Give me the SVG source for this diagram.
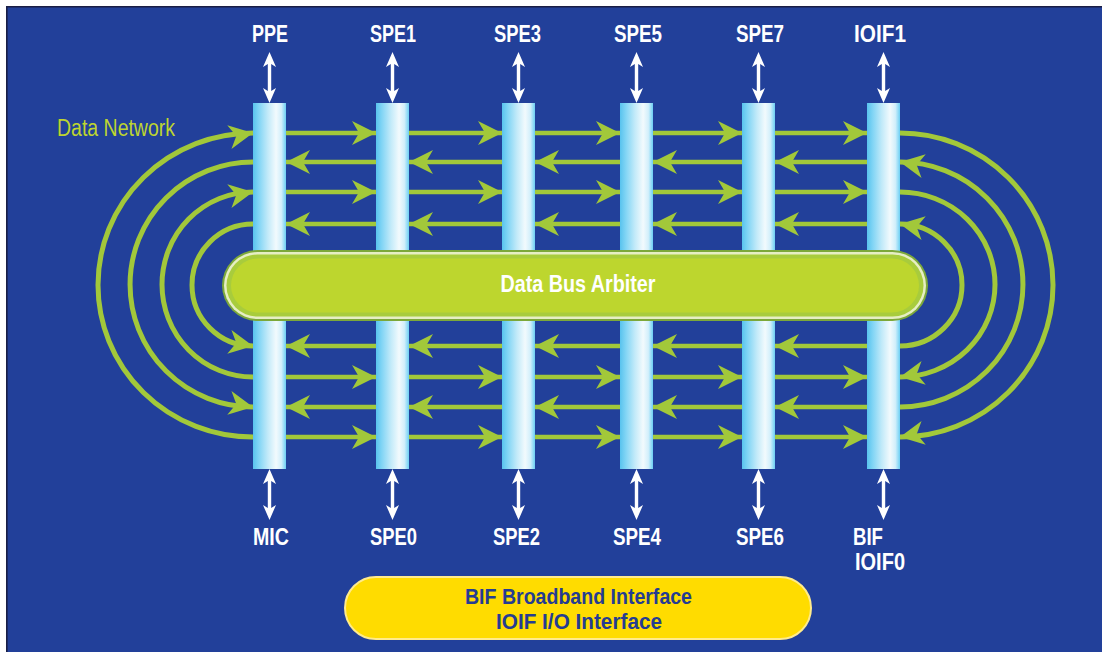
<svg xmlns="http://www.w3.org/2000/svg" xmlns:xlink="http://www.w3.org/1999/xlink" width="1102" height="652" viewBox="0 0 1102 652">
<style>
.lbl{font-family:"Liberation Sans Narrow","Liberation Sans",Arial,sans-serif;font-weight:bold;font-size:23px;fill:#ffffff;text-anchor:middle}
.leg{font-family:"Liberation Sans Narrow","Liberation Sans",Arial,sans-serif;font-weight:bold;font-size:22.5px;fill:#253C92;text-anchor:middle}
.net{font-family:"Liberation Sans Narrow","Liberation Sans",Arial,sans-serif;font-size:23px;fill:#BED530}
.ln{fill:none;stroke:#A2C83A;stroke-width:4.5}
.arc{fill:none;stroke:#A2C83A;stroke-width:5}
.ah{fill:#A2C83A}
.col{fill:url(#colg)}
.wa{fill:#ffffff}
</style>
<defs>
<linearGradient id="colg" x1="0" y1="0" x2="1" y2="0">
<stop offset="0" stop-color="#58C3EE"/>
<stop offset="0.18" stop-color="#82D5F5"/>
<stop offset="0.45" stop-color="#C2EAF9"/>
<stop offset="0.7" stop-color="#F2FAFD"/>
<stop offset="0.86" stop-color="#D2EFFB"/>
<stop offset="1" stop-color="#6CCFF4"/>
</linearGradient>
<path id="ah" class="ah" d="M0,0 L-24,-12 L-17,0 L-24,12 Z"/>
<path id="dbl" d="M0,0 L6.5,15 L1.7,12 L1.7,39 L6.5,36 L0,51 L-6.5,36 L-1.7,39 L-1.7,12 L-6.5,15 Z"/>
</defs>

<rect x="0" y="0" width="1102" height="652" fill="#ffffff"/>
<rect x="6" y="6" width="1096" height="646" fill="#22409A"/>
<path d="M6.8,652 V6.8 H1102" fill="none" stroke="#1A1E45" stroke-width="1.6"/>

<text class="net" x="57" y="136" textLength="118" lengthAdjust="spacingAndGlyphs">Data Network</text>

<g id="connectors">
<path class="ln" d="M253,133H900M253,162H900M253,192H900M253,224H900M253,346H900M253,377H900M253,407H900M253,437H900"/>
<path class="arc" d="M253,133 A155,152 0 0 0 253,437"/>
<path class="arc" d="M253,162 A123,122.5 0 0 0 253,407"/>
<path class="arc" d="M253,192 A91,92.5 0 0 0 253,377"/>
<path class="arc" d="M253,224 A61,61 0 0 0 253,346"/>
<path class="arc" d="M900,133 A153,152 0 0 1 900,437"/>
<path class="arc" d="M900,162 A123,122.5 0 0 1 900,407"/>
<path class="arc" d="M900,192 A95,92.5 0 0 1 900,377"/>
<path class="arc" d="M900,224 A62,61 0 0 1 900,346"/>
<use href="#ah" transform="translate(376,133)"/><use href="#ah" transform="translate(502,133)"/><use href="#ah" transform="translate(620,133)"/><use href="#ah" transform="translate(742,133)"/><use href="#ah" transform="translate(867,133)"/>
<use href="#ah" transform="translate(376,192)"/><use href="#ah" transform="translate(502,192)"/><use href="#ah" transform="translate(620,192)"/><use href="#ah" transform="translate(742,192)"/><use href="#ah" transform="translate(867,192)"/>
<use href="#ah" transform="translate(376,377)"/><use href="#ah" transform="translate(502,377)"/><use href="#ah" transform="translate(620,377)"/><use href="#ah" transform="translate(742,377)"/><use href="#ah" transform="translate(867,377)"/>
<use href="#ah" transform="translate(376,437)"/><use href="#ah" transform="translate(502,437)"/><use href="#ah" transform="translate(620,437)"/><use href="#ah" transform="translate(742,437)"/><use href="#ah" transform="translate(867,437)"/>
<use href="#ah" transform="translate(286,162) rotate(180)"/><use href="#ah" transform="translate(409,162) rotate(180)"/><use href="#ah" transform="translate(535,162) rotate(180)"/><use href="#ah" transform="translate(653,162) rotate(180)"/><use href="#ah" transform="translate(775,162) rotate(180)"/>
<use href="#ah" transform="translate(286,224) rotate(180)"/><use href="#ah" transform="translate(409,224) rotate(180)"/><use href="#ah" transform="translate(535,224) rotate(180)"/><use href="#ah" transform="translate(653,224) rotate(180)"/><use href="#ah" transform="translate(775,224) rotate(180)"/>
<use href="#ah" transform="translate(286,346) rotate(180)"/><use href="#ah" transform="translate(409,346) rotate(180)"/><use href="#ah" transform="translate(535,346) rotate(180)"/><use href="#ah" transform="translate(653,346) rotate(180)"/><use href="#ah" transform="translate(775,346) rotate(180)"/>
<use href="#ah" transform="translate(286,407) rotate(180)"/><use href="#ah" transform="translate(409,407) rotate(180)"/><use href="#ah" transform="translate(535,407) rotate(180)"/><use href="#ah" transform="translate(653,407) rotate(180)"/><use href="#ah" transform="translate(775,407) rotate(180)"/>
<use href="#ah" transform="translate(253,133) rotate(-10)"/><use href="#ah" transform="translate(253,192) rotate(-10)"/><use href="#ah" transform="translate(253,346) rotate(10)"/><use href="#ah" transform="translate(253,407) rotate(10)"/>
<use href="#ah" transform="translate(900,162) rotate(190)"/><use href="#ah" transform="translate(900,224) rotate(190)"/><use href="#ah" transform="translate(900,377) rotate(170)"/><use href="#ah" transform="translate(900,437) rotate(170)"/>
</g>

<g id="col-ppe-mic">
<rect class="col" x="253" y="103" width="33" height="366"/>
<use href="#dbl" class="wa" x="269.5" y="52"/><use href="#dbl" class="wa" x="269.5" y="469"/>
<text class="lbl" x="270" y="42" textLength="36" lengthAdjust="spacingAndGlyphs">PPE</text>
<text class="lbl" x="271" y="545" textLength="36" lengthAdjust="spacingAndGlyphs">MIC</text>
</g>
<g id="col-spe1-spe0">
<rect class="col" x="376" y="103" width="33" height="366"/>
<use href="#dbl" class="wa" x="392.5" y="52"/><use href="#dbl" class="wa" x="392.5" y="469"/>
<text class="lbl" x="393" y="42" textLength="46" lengthAdjust="spacingAndGlyphs">SPE1</text>
<text class="lbl" x="393.5" y="545" textLength="47" lengthAdjust="spacingAndGlyphs">SPE0</text>
</g>
<g id="col-spe3-spe2">
<rect class="col" x="502" y="103" width="33" height="366"/>
<use href="#dbl" class="wa" x="518.5" y="52"/><use href="#dbl" class="wa" x="518.5" y="469"/>
<text class="lbl" x="517.5" y="42" textLength="47" lengthAdjust="spacingAndGlyphs">SPE3</text>
<text class="lbl" x="516.5" y="545" textLength="47" lengthAdjust="spacingAndGlyphs">SPE2</text>
</g>
<g id="col-spe5-spe4">
<rect class="col" x="620" y="103" width="33" height="366"/>
<use href="#dbl" class="wa" x="636.5" y="52"/><use href="#dbl" class="wa" x="636.5" y="469"/>
<text class="lbl" x="638" y="42" textLength="48" lengthAdjust="spacingAndGlyphs">SPE5</text>
<text class="lbl" x="637" y="545" textLength="48" lengthAdjust="spacingAndGlyphs">SPE4</text>
</g>
<g id="col-spe7-spe6">
<rect class="col" x="742" y="103" width="33" height="366"/>
<use href="#dbl" class="wa" x="758.5" y="52"/><use href="#dbl" class="wa" x="758.5" y="469"/>
<text class="lbl" x="760" y="42" textLength="48" lengthAdjust="spacingAndGlyphs">SPE7</text>
<text class="lbl" x="760" y="545" textLength="48" lengthAdjust="spacingAndGlyphs">SPE6</text>
</g>
<g id="col-ioif1-ioif0">
<rect class="col" x="867" y="103" width="33" height="366"/>
<use href="#dbl" class="wa" x="883.5" y="52"/><use href="#dbl" class="wa" x="883.5" y="469"/>
<text class="lbl" x="880" y="42" textLength="52" lengthAdjust="spacingAndGlyphs">IOIF1</text>
<text class="lbl" x="868" y="545" textLength="30" lengthAdjust="spacingAndGlyphs">BIF</text>
<text class="lbl" x="880" y="570" textLength="50" lengthAdjust="spacingAndGlyphs">IOIF0</text>
</g>

<g id="arbiter">
<rect x="222" y="250" width="706" height="71" rx="35.5" fill="#7CA83A"/>
<rect x="224" y="252" width="702" height="67" rx="33.5" fill="#E6EEC4"/>
<rect x="226.5" y="254.5" width="697" height="62" rx="31" fill="#A8CC3C"/>
<rect x="231" y="258.5" width="688" height="54" rx="27" fill="#BDD62E"/>
<text class="lbl" x="578" y="292" textLength="155" lengthAdjust="spacingAndGlyphs">Data Bus Arbiter</text>
</g>

<g id="legend">
<rect x="345" y="577" width="466" height="62" rx="31" fill="#FFDC00" stroke="#FFEB8C" stroke-width="2"/>
<text class="leg" x="578.5" y="604" textLength="227" lengthAdjust="spacingAndGlyphs">BIF Broadband Interface</text>
<text class="leg" x="579" y="629" textLength="166" lengthAdjust="spacingAndGlyphs">IOIF I/O Interface</text>
</g>
</svg>
